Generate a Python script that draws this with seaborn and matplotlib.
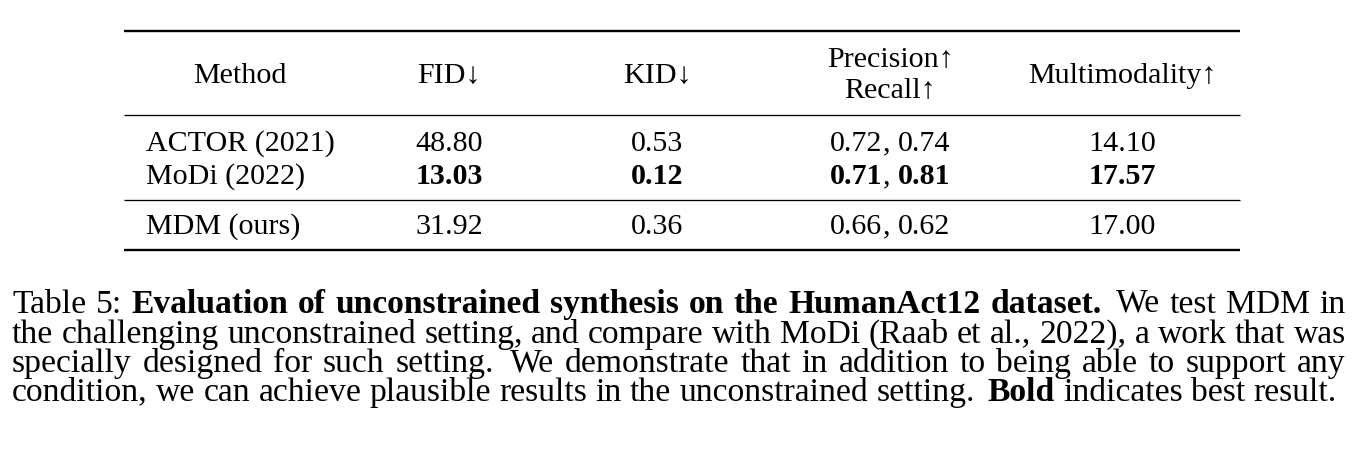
import math
import matplotlib
matplotlib.use("Agg")
import matplotlib.pyplot as plt
from matplotlib.font_manager import FontProperties
import seaborn as sns
import pandas as pd

# ---------------- data ----------------
methods = ["ACTOR (2021)", "MoDi (2022)", "MDM (ours)"]
fid = ["48.80", "13.03", "31.92"]
kid = ["0.53", "0.12", "0.36"]
precision = ["0.72", "0.71", "0.66"]
recall = ["0.74", "0.81", "0.62"]
multimodality = ["14.10", "17.57", "17.00"]
bold_rows = [False, True, False]
headers = ["Method", "FID\u2193", "KID\u2193", "Precision\u2191\nRecall\u2191", "Multimodality\u2191"]

caption_runs = [
    [("Table 5: ", False), ("Evaluation of unconstrained synthesis on the HumanAct12 dataset.", True),
     (" We test MDM in", False)],
    [("the challenging unconstrained setting, and compare with MoDi (Raab et al., 2022), a work that was", False)],
    [("specially designed for such setting. We demonstrate that in addition to being able to support any", False)],
    [("condition, we can achieve plausible results in the unconstrained setting. ", False), ("Bold", True),
     (" indicates best result.", False)],
]

df = pd.DataFrame({"Method": methods, "FID": fid, "KID": kid,
                   "Precision": precision, "Recall": recall, "Multimodality": multimodality,
                   "bold": bold_rows})

# ---------------- style ----------------
sns.set_theme(style="white")
FAM = ["Liberation Serif", "DejaVu Serif"]
plt.rcParams["font.family"] = FAM
FS = 21.6      # table text
CFS = 24.2     # caption text

W, H = 1364, 452
fig = plt.figure(figsize=(W / 100, H / 100), dpi=100)
fig.patch.set_facecolor("white")
ax = fig.add_axes([0, 0, 1, 1])
ax.set_xlim(0, W)
ax.set_ylim(H, 0)
ax.axis("off")
renderer = fig.canvas.get_renderer()

try:
    from matplotlib.backends.backend_agg import get_hinting_flag
except Exception:
    get_hinting_flag = None


def baseline_shift(s, bold, fs):
    """Pixel offset by which Agg's integer bitmap placement moves this word's baseline."""
    try:
        prop = FontProperties(family=FAM, size=fs, weight="bold" if bold else "normal")
        font = renderer._prepare_font(prop)
        font.set_text(s, 0, flags=get_hinting_flag())
        d64 = font.get_descent()
        _, h64 = font.get_width_height()
        return lambda yb: (round(yb + d64 / 64.0) - (h64 // 64) + math.floor((h64 - d64) / 64.0)) - yb
    except Exception:
        return lambda yb: 0


def tw(s, bold=False, fs=FS):
    t = ax.text(0, 0, s, fontsize=fs, fontweight="bold" if bold else "normal", family=FAM)
    w = t.get_window_extent(renderer).width
    t.remove()
    return w


def put(x, y, s, bold=False, ha="left", fs=FS):
    shift = baseline_shift(s, bold, fs)(y)
    ax.text(x, y - shift, s, fontsize=fs, fontweight="bold" if bold else "normal", family=FAM,
            ha=ha, va="baseline", color="black")


SPACE = tw("a a") - tw("aa")

# ---------------- rules ----------------
x0, x1 = 124, 1240
for y, lw in [(31.7, 1.7), (116, 0.95), (201, 0.95), (251, 1.7)]:
    ax.plot([x0, x1], [y, y], color="black", lw=lw, solid_capstyle="butt")

# ---------------- header ----------------
col_x = [240, 449, 657, 890, 1122]
put(col_x[0], 83, headers[0], ha="center")
put(col_x[1], 83, headers[1], ha="center")
put(col_x[2], 83, headers[2], ha="center")
h1, h2 = headers[3].split("\n")
put(col_x[3], 67, h1, ha="center")
put(col_x[3], 98, h2, ha="center")
put(col_x[4], 83, headers[4], ha="center")

# ---------------- rows ----------------
row_y = [151, 184, 234]
for i, r in df.iterrows():
    y = row_y[i]
    b = bool(r["bold"])
    put(146, y, r["Method"], ha="left")
    put(col_x[1], y, r["FID"], bold=b, ha="center")
    put(col_x[2], y, r["KID"], bold=b, ha="center")
    segs = [(r["Precision"], b), (",", False), (None, False), (r["Recall"], b)]
    total = sum(SPACE if s is None else tw(s, bb) for s, bb in segs)
    x = col_x[3] - total / 2
    for s, bb in segs:
        if s is None:
            x += SPACE
            continue
        put(x, y, s, bold=bb)
        x += tw(s, bb)
    put(col_x[4], y, r["Multimodality"], bold=b, ha="center")

# ---------------- caption (justified, word by word) ----------------
cap_left = 12
cap_right = [1346, 1346, 1346, 1337]
cap_y = [313, 343, 372, 401]
for li, runs in enumerate(caption_runs):
    tokens = []
    for text, bold in runs:
        for w in text.split(" "):
            if w:
                tokens.append((w, bold))
    widths = [tw(w, b, fs=CFS) for w, b in tokens]
    weights = [1.5 if tokens[k][0].endswith(".") and tokens[k][0] != "al." else 1.0
               for k in range(len(tokens) - 1)]
    unit = (cap_right[li] - cap_left - sum(widths)) / sum(weights)
    x = cap_left
    for k, ((w, b), wd) in enumerate(zip(tokens, widths)):
        put(x, cap_y[li], w, bold=b, fs=CFS)
        x += wd
        if k < len(weights):
            x += unit * weights[k]

fig.savefig("out.png", dpi=100, facecolor="white")
